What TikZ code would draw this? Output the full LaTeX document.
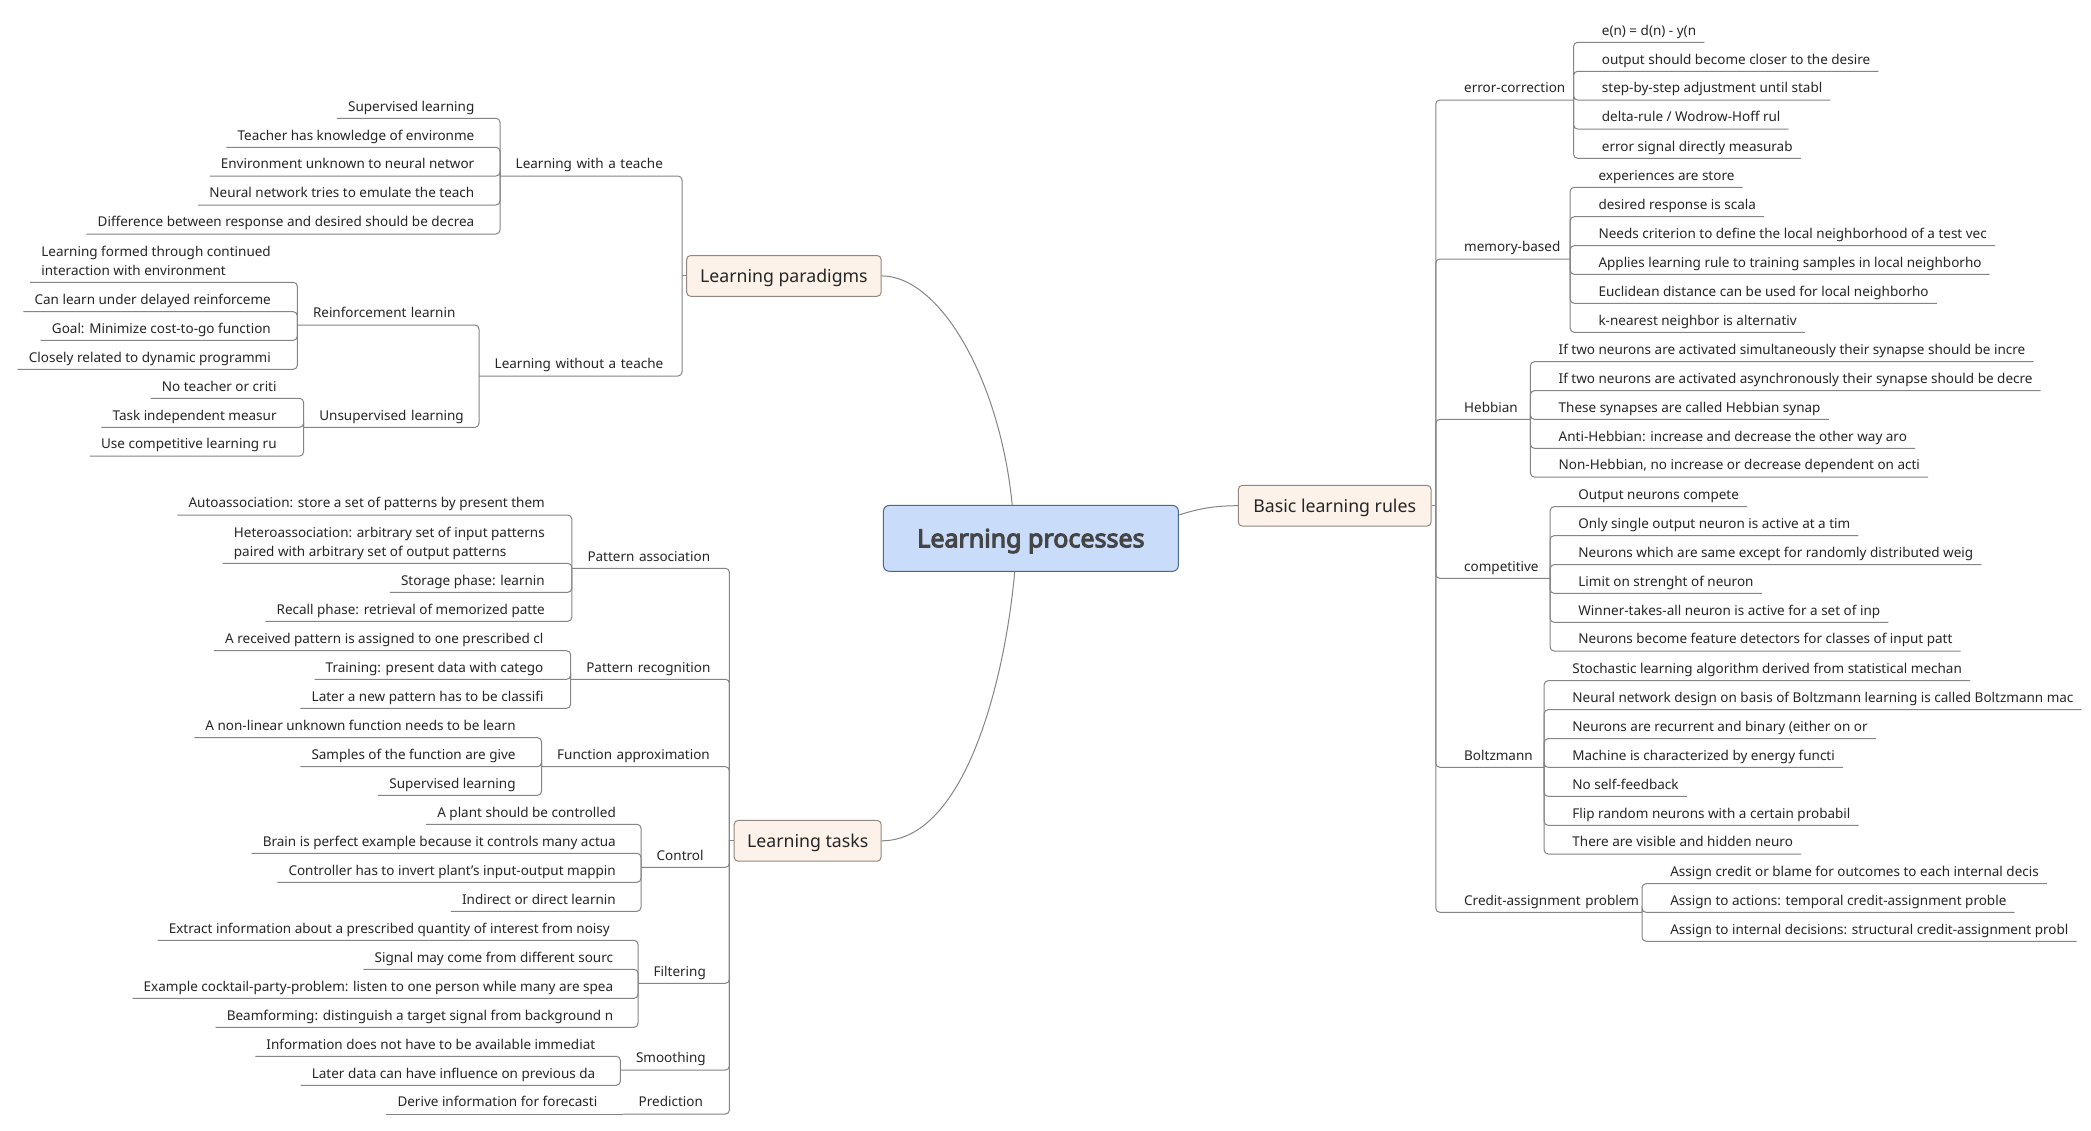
\documentclass[tikz,border=0pt]{standalone}
\usepackage{fontspec}
\setmainfont{Noto Sans}
\newfontfamily\rootfont{Noto Sans}[FakeBold=4.2]
\usetikzlibrary{calc}

\definecolor{linegray}{HTML}{858585}
\definecolor{leaftext}{HTML}{262626}
\definecolor{rootfill}{HTML}{C9DCFA}
\definecolor{rootdraw}{HTML}{4A6897}
\definecolor{roottext}{HTML}{454545}
\definecolor{mainfill}{HTML}{FDF2E9}
\definecolor{maindraw}{HTML}{928780}

\tikzset{
  conn/.style={draw=linegray, line width=1pt, rounded corners=4pt},
  link/.style={draw=linegray, line width=1pt},
  topic/.style={inner sep=0pt, text depth=7pt, text height=10pt, text=leaftext,
    font=\fontsize{13.5}{18.7}\selectfont},
  lleaf/.style={topic, anchor=south east, inner xsep=11pt, align=left},
  lmid/.style={topic, anchor=south west, inner xsep=0pt, text width=#1, align=left,
    execute at begin node={\noindent\hspace*{15.5pt}}},
  rleaf/.style={topic, anchor=south west, inner xsep=8pt},
  rmid/.style={topic, anchor=south west, inner xsep=0pt, text width=#1, align=left,
    execute at begin node={\noindent\hspace*{28.2pt}}},
  mainbox/.style={draw=maindraw, fill=mainfill, rounded corners=4pt, line width=1pt,
    inner sep=0pt, minimum height=40.8pt, text height=13pt, text depth=0pt,
    text=leaftext, font=\fontsize{17.7}{22}\selectfont},
  rootbox/.style={draw=rootdraw, fill=rootfill, rounded corners=6pt, line width=1pt,
    inner sep=0pt, minimum width=295pt, minimum height=66pt, text height=17.8pt,
    text depth=0pt, text=roottext, font=\rootfont\fontsize{25}{30}\selectfont}
}

\begin{document}
\begin{tikzpicture}[x=1pt, y=-1pt]
\fill[white] (0,0) rectangle (2091,1130);
\useasboundingbox (0,0) rectangle (2091,1130);

% ---------- central topic and main branches ----------
\node[rootbox] (root) at (1030.9,538.35) {Learning processes};
\node[mainbox, minimum width=194.4pt] (lp) at (783.9,275.9) {Learning paradigms};
\node[mainbox, minimum width=146.9pt] (lt) at (807.65,840.8) {Learning tasks};
\node[mainbox, minimum width=192.8pt] (br) at (1334.7,505.7) {Basic learning rules};

\draw[link] ($(root.north)+(-18.7,0)$) .. controls (1000,380) and (940,275.9) .. (lp.east);
\draw[link] ($(root.south)+(-16.2,0)$) .. controls (1005,680) and (965,840.8) .. (lt.east);
\draw[link] ($(root.east)+(0,-23.4)$) .. controls (1195,510) and (1210,505.7) .. (br.west);

\coordinate (lpj) at (682,275.9);
\coordinate (ltj) at (729.4,840.8);
\coordinate (brj) at (1435.8,505.7);
\draw[link] (lp.west) -- (lpj);
\draw[link] (lt.west) -- (ltj);
\draw[link] (br.east) -- (brj);

% ---------- Learning paradigms ----------
\node[lmid=182pt] (tw) at (500,176) {Learning with a teache};
\node[lleaf] (t1) at (485.5,118.3) {Supervised learning};
\node[lleaf] (t2) at (485.5,147.3) {Teacher has knowledge of environme};
\node[lleaf] (t3) at (485.5,176) {Environment unknown to neural networ};
\node[lleaf] (t4) at (485.5,205) {Neural network tries to emulate the teach};
\node[lleaf] (t5) at (485.5,234) {Difference between response and desired should be decrea};

\node[lmid=203pt] (two) at (479,376) {Learning without a teache};
\node[lmid=181.7pt] (rl) at (297.3,325) {Reinforcement learnin};
\node[lleaf] (r1) at (282,282.3) {Learning formed through continued\\interaction with environment};
\node[lleaf] (r2) at (282,311.7) {Can learn under delayed reinforceme};
\node[lleaf] (r3) at (282,340.3) {Goal: Minimize cost-to-go function};
\node[lleaf] (r4) at (282,369.3) {Closely related to dynamic programmi};
\node[lmid=175.4pt] (us) at (303.6,427.3) {Unsupervised learning};
\node[lleaf] (u1) at (287.8,398.3) {No teacher or criti};
\node[lleaf] (u2) at (287.8,427.3) {Task independent measur};
\node[lleaf] (u3) at (287.8,456) {Use competitive learning ru};

\foreach \c in {tw,two} \draw[conn] (lpj) |- (\c.south west);
\foreach \c in {t1,t2,t3,t4,t5} \draw[conn] (tw.south west) |- (\c.south west);
\foreach \c in {rl,us} \draw[conn] (two.south west) |- (\c.south west);
\foreach \c in {r1,r2,r3,r4} \draw[conn] (rl.south west) |- (\c.south west);
\foreach \c in {u1,u2,u3} \draw[conn] (us.south west) |- (\c.south west);

% ---------- Learning tasks ----------
\node[lmid=157.6pt] (pa) at (571.8,568.3) {Pattern association};
\node[lleaf] (a1) at (556,515) {Autoassociation: store a set of patterns by present them};
\node[lleaf] (a2) at (556,563.3) {Heteroassociation: arbitrary set of input patterns\\paired with arbitrary set of output patterns};
\node[lleaf] (a3) at (556,592.3) {Storage phase: learnin};
\node[lleaf] (a4) at (556,621.3) {Recall phase: retrieval of memorized patte};

\node[lmid=158.8pt] (pr) at (570.6,679.3) {Pattern recognition};
\node[lleaf] (p1) at (554.6,650.7) {A received pattern is assigned to one prescribed cl};
\node[lleaf] (p2) at (554.6,679.3) {Training: present data with catego};
\node[lleaf] (p3) at (554.6,708.3) {Later a new pattern has to be classifi};

\node[lmid=187.9pt] (fa) at (541.5,766.7) {Function approximation};
\node[lleaf] (f1) at (526.8,737.7) {A non-linear unknown function needs to be learn};
\node[lleaf] (f2) at (526.8,766.7) {Samples of the function are give};
\node[lleaf] (f3) at (526.8,795.3) {Supervised learning};

\node[lmid=88.4pt] (co) at (641,867.3) {Control};
\node[lleaf] (c1) at (627,824.3) {A plant should be controlled};
\node[lleaf] (c2) at (627,853.3) {Brain is perfect example because it controls many actua};
\node[lleaf] (c3) at (627,882.3) {Controller has to invert plant's input-output mappin};
\node[lleaf] (c4) at (627,911.3) {Indirect or direct learnin};

\node[lmid=91.4pt] (fi) at (638,983.3) {Filtering};
\node[lleaf] (i1) at (621,940.3) {Extract information about a prescribed quantity of interest from noisy};
\node[lleaf] (i2) at (624.3,969.3) {Signal may come from different sourc};
\node[lleaf] (i3) at (624.3,998.3) {Example cocktail-party-problem: listen to one person while many are spea};
\node[lleaf] (i4) at (624.3,1027.3) {Beamforming: distinguish a target signal from background n};

\node[lmid=109.1pt] (sm) at (620.3,1070) {Smoothing};
\node[lleaf] (s1) at (606.4,1056.3) {Information does not have to be available immediat};
\node[lleaf] (s2) at (606.4,1085.3) {Later data can have influence on previous da};

\node[lmid=106.4pt] (pd) at (623,1114) {Prediction};
\node[lleaf] (d1) at (608.5,1114) {Derive information for forecasti};

\foreach \c in {pa,pr,fa,co,fi,sm,pd} \draw[conn] (ltj) |- (\c.south west);
\foreach \c in {a1,a2,a3,a4} \draw[conn] (pa.south west) |- (\c.south west);
\foreach \c in {p1,p2,p3} \draw[conn] (pr.south west) |- (\c.south west);
\foreach \c in {f1,f2,f3} \draw[conn] (fa.south west) |- (\c.south west);
\foreach \c in {c1,c2,c3,c4} \draw[conn] (co.south west) |- (\c.south west);
\foreach \c in {i1,i2,i3,i4} \draw[conn] (fi.south west) |- (\c.south west);
\foreach \c in {s1,s2} \draw[conn] (sm.south west) |- (\c.south west);
\draw[conn] (pd.south west) -- (d1.south west);

% ---------- Basic learning rules ----------
\node[rmid=137.4pt] (ec) at (1435.8,100) {error-correction};
\node[rleaf] (e1) at (1593.7,42.3) {e(n) = d(n) - y(n};
\node[rleaf] (e2) at (1593.7,71.3) {output should become closer to the desire};
\node[rleaf] (e3) at (1593.7,100) {step-by-step adjustment until stabl};
\node[rleaf] (e4) at (1593.7,129) {delta-rule / Wodrow-Hoff rul};
\node[rleaf] (e5) at (1593.7,158.3) {error signal directly measurab};

\node[rmid=134pt] (mb) at (1435.8,259) {memory-based};
\node[rleaf] (m1) at (1590.3,187.3) {experiences are store};
\node[rleaf] (m2) at (1590.3,216.7) {desired response is scala};
\node[rleaf] (m3) at (1590.3,245.7) {Needs criterion to define the local neighborhood of a test vec};
\node[rleaf] (m4) at (1590.3,274.3) {Applies learning rule to training samples in local neighborho};
\node[rleaf] (m5) at (1590.3,303.3) {Euclidean distance can be used for local neighborho};
\node[rleaf] (m6) at (1590.3,332.3) {k-nearest neighbor is alternativ};

\node[rmid=94.2pt] (hb) at (1435.8,419.3) {Hebbian};
\node[rleaf] (h1) at (1550.5,361.7) {If two neurons are activated simultaneously their synapse should be incre};
\node[rleaf] (h2) at (1550.5,390.7) {If two neurons are activated asynchronously their synapse should be decre};
\node[rleaf] (h3) at (1550.5,419.3) {These synapses are called Hebbian synap};
\node[rleaf] (h4) at (1550.5,448.3) {Anti-Hebbian: increase and decrease the other way aro};
\node[rleaf] (h5) at (1550.5,477) {Non-Hebbian, no increase or decrease dependent on acti};

\node[rmid=113.9pt] (cp) at (1435.8,578.3) {competitive};
\node[rleaf] (q1) at (1570.2,506.7) {Output neurons compete};
\node[rleaf] (q2) at (1570.2,535.7) {Only single output neuron is active at a tim};
\node[rleaf] (q3) at (1570.2,564.7) {Neurons which are same except for randomly distributed weig};
\node[rleaf] (q4) at (1570.2,593.3) {Limit on strenght of neuron};
\node[rleaf] (q5) at (1570.2,622.3) {Winner-takes-all neuron is active for a set of inp};
\node[rleaf] (q6) at (1570.2,651) {Neurons become feature detectors for classes of input patt};

\node[rmid=107.9pt] (bz) at (1435.8,767.3) {Boltzmann};
\node[rleaf] (b1) at (1564.2,680.7) {Stochastic learning algorithm derived from statistical mechan};
\node[rleaf] (b2) at (1564.2,709.7) {Neural network design on basis of Boltzmann learning is called Boltzmann mac};
\node[rleaf] (b3) at (1564.2,738.7) {Neurons are recurrent and binary (either on or};
\node[rleaf] (b4) at (1564.2,767.3) {Machine is characterized by energy functi};
\node[rleaf] (b5) at (1564.2,796.3) {No self-feedback};
\node[rleaf] (b6) at (1564.2,825.3) {Flip random neurons with a certain probabil};
\node[rleaf] (b7) at (1564.2,854) {There are visible and hidden neuro};

\node[rmid=205.8pt] (ca) at (1435.8,912.3) {Credit-assignment problem};
\node[rleaf] (k1) at (1662.1,883.7) {Assign credit or blame for outcomes to each internal decis};
\node[rleaf] (k2) at (1662.1,912.3) {Assign to actions: temporal credit-assignment proble};
\node[rleaf] (k3) at (1662.1,941.3) {Assign to internal decisions: structural credit-assignment probl};

\foreach \c in {ec,mb,hb,cp,bz,ca} \draw[conn] (brj) |- (\c.south east);
\foreach \c in {e1,e2,e3,e4,e5} \draw[conn] (ec.south east) |- (\c.south east);
\foreach \c in {m1,m2,m3,m4,m5,m6} \draw[conn] (mb.south east) |- (\c.south east);
\foreach \c in {h1,h2,h3,h4,h5} \draw[conn] (hb.south east) |- (\c.south east);
\foreach \c in {q1,q2,q3,q4,q5,q6} \draw[conn] (cp.south east) |- (\c.south east);
\foreach \c in {b1,b2,b3,b4,b5,b6,b7} \draw[conn] (bz.south east) |- (\c.south east);
\foreach \c in {k1,k2,k3} \draw[conn] (ca.south east) |- (\c.south east);
\end{tikzpicture}
\end{document}
